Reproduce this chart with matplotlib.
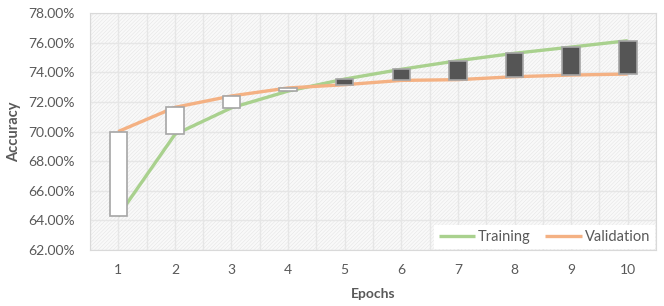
import matplotlib.pyplot as plt
import numpy as np
from matplotlib.patches import Rectangle
from matplotlib.ticker import FuncFormatter

# accuracy per epoch (percent)
epochs = [1, 2, 3, 4, 5, 6, 7, 8, 9, 10]
training = [64.3, 69.8, 71.6, 72.73, 73.54, 74.2, 74.78, 75.28, 75.7, 76.13]
validation = [70.0, 71.63, 72.4, 72.94, 73.16, 73.45, 73.5, 73.7, 73.81, 73.88]

green = '#a9d18e'
orange = '#f4b183'
txt = '#595959'

plt.rcParams['font.family'] = ['Lato', 'DejaVu Sans']
plt.rcParams['hatch.linewidth'] = 0.35
plt.rcParams['hatch.color'] = '#e3e3e3'

fig = plt.figure(figsize=(6.64, 3.06), dpi=100)
ax = fig.add_axes([0.1355, 0.183, 0.8525, 0.7745])

# hatched plot area like the excel pattern fill
ax.add_patch(Rectangle((0, 0), 1, 1, transform=ax.transAxes, facecolor='#f9f9f9',
                       hatch='/////////', edgecolor='#e3e3e3', lw=0, zorder=0))

for y in np.arange(62, 78.1, 2):
    ax.axhline(y, color='#e6e6e6', lw=1, zorder=1)
for x in np.arange(0.5, 10.6, 0.5):
    ax.axvline(x, color='#e6e6e6', lw=1, zorder=1)

ax.plot(epochs, training, color=green, lw=2.4, label='Training', zorder=2, solid_capstyle='butt')
ax.plot(epochs, validation, color=orange, lw=2.4, label='Validation', zorder=2, solid_capstyle='butt')

# up/down bars
tr = np.array(training)
va = np.array(validation)
cols = ['#555555' if t > v else 'white' for t, v in zip(tr, va)]
ax.bar(epochs, tr - va, bottom=va, width=0.31, color=cols, edgecolor='#a6a6a6', lw=1.2, zorder=3)

ax.set_xlim(0.5, 10.5)
ax.set_ylim(62, 78)
ax.set_xticks(epochs)
ax.set_yticks(np.arange(62, 78.1, 2))
ax.yaxis.set_major_formatter(FuncFormatter(lambda v, p: '%.2f%%' % v))
ax.tick_params(length=0, colors=txt, labelsize=10)
ax.tick_params(axis='x', pad=10)
ax.tick_params(axis='y', pad=11)
for s in ax.spines.values():
    s.set_color('#d9d9d9')
    s.set_linewidth(0.8)

ax.set_xlabel('Epochs', color=txt, fontsize=10, fontweight='bold', labelpad=9)
ax.set_ylabel('Accuracy', color=txt, fontsize=10.5, fontweight='bold', labelpad=5)

leg = ax.legend(loc='lower right', frameon=True, fontsize=10.5, handlelength=2.5,
                ncol=2, borderaxespad=0.05, columnspacing=1.0, handletextpad=0.2,
                fancybox=False, borderpad=0.35)
leg.get_frame().set_facecolor('white')
leg.get_frame().set_edgecolor('none')
leg.get_frame().set_alpha(1)
for t in leg.get_texts():
    t.set_color(txt)
leg.set_zorder(5)

fig.savefig('out.png', dpi=100)
